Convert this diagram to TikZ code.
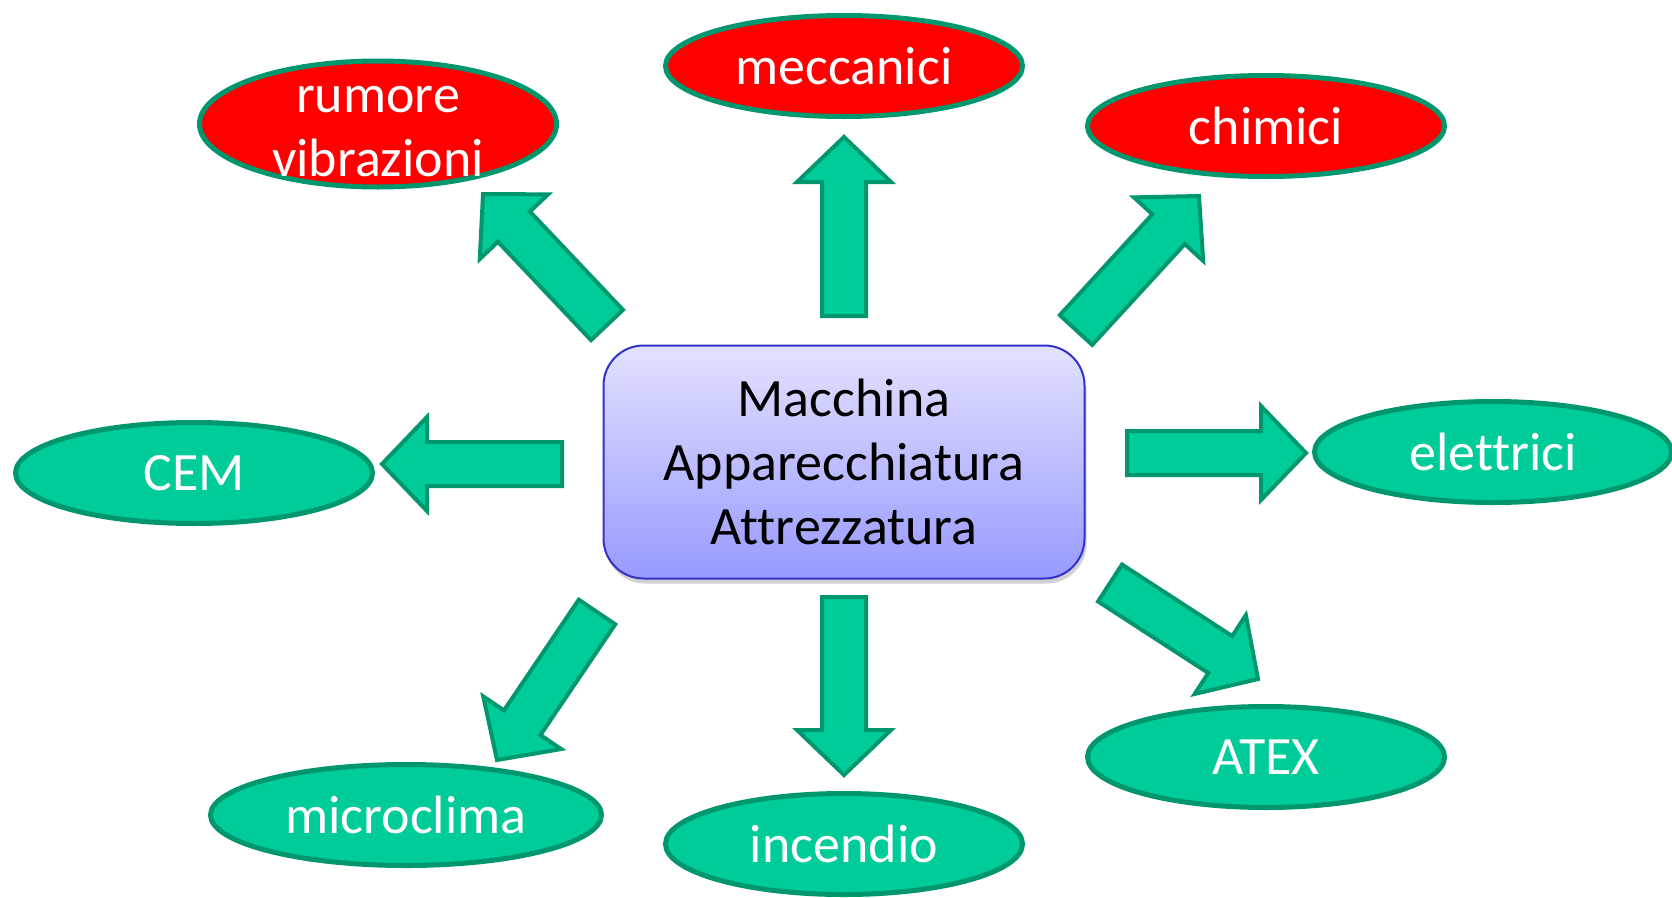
\documentclass[tikz,border=0pt]{standalone}
\usepackage{fontspec}
\setmainfont{Carlito}[Ligatures=NoCommon]
\usetikzlibrary{shapes.geometric,calc,shadows}
\definecolor{gfill}{HTML}{00CC99}
\definecolor{gborder}{HTML}{00966E}
\definecolor{bborder}{HTML}{3333CC}
\definecolor{btop}{HTML}{E2E2FF}
\definecolor{bbot}{HTML}{9999FF}
\newcommand\blockarrow[2]{%
  \coordinate (#1h) at ($(#2)!45pt!(#1)$);
  \draw[barrow] ($(#1)!22pt!90:(#2)$) -- ($(#1h)!22pt!90:(#2)$) -- ($(#1h)!47pt!90:(#2)$) -- (#2)
    -- ($(#1h)!47pt!-90:(#2)$) -- ($(#1h)!22pt!-90:(#2)$) -- ($(#1)!22pt!-90:(#2)$) -- cycle;}
\begin{document}
\begin{tikzpicture}[x=1pt,y=-1pt,
  ell/.style={ellipse, draw=gborder, line width=5pt, fill=gfill, minimum width=357pt, minimum height=101pt, inner sep=0pt},
  redell/.style={ell, fill=red},
  etext/.style={text=white, font=\fontsize{54}{64}\selectfont, align=center, inner sep=0pt},
  btext/.style={text=black, font=\fontsize{54}{64}\selectfont, align=center, inner sep=0pt},
  barrow/.style={draw=gborder, fill=gfill, line width=4pt, line join=miter},
  mainbox/.style={rectangle, rounded corners=40pt, draw=bborder, line width=2pt, top color=btop, bottom color=bbot, minimum width=481pt, minimum height=233pt, inner sep=0pt,
    drop shadow={shadow xshift=2pt, shadow yshift=-5pt, opacity=0.3, fill=black!60}}
]
\useasboundingbox (0,0) rectangle (1672,897);
\fill[white] (0,0) rectangle (1672,897);

% ellipses
\node[redell, minimum height=126pt] (rum) at (378,124) {};
\node[etext] (rumT) at (378,132) {rumore\\vibrazioni};
\node[redell] (mec) at (844,66) {};
\node[etext] (mecT) at (mec) {meccanici};
\node[redell] (chi) at (1266,126) {};
\node[etext] (chiT) at (chi) {chimici};
\node[ell] (cem) at (194,473) {};
\node[etext] (cemT) at (cem) {CEM};
\node[ell] (ele) at (1493,452) {};
\node[etext] (eleT) at (ele) {elettrici};
\node[ell, minimum width=391pt] (mic) at (406,815) {};
\node[etext] (micT) at (mic) {microclima};
\node[ell] (inc) at (844,844) {};
\node[etext] (incT) at (inc) {incendio};
\node[ell] (atx) at (1266,757) {};
\node[etext] (atxT) at (atx) {ATEX};

% centre box
\node[mainbox] (box) at (844,462) {};
\node[btext] (boxT) at (box) {Macchina\\Apparecchiatura\\Attrezzatura};

% arrows (tail, tip)
\coordinate (aU) at (844,316);  \coordinate (aUt) at (844,137);
\coordinate (aD) at (844,597);  \coordinate (aDt) at (844,775);
\coordinate (aL) at (562,464);  \coordinate (aLt) at (382,464);
\coordinate (aR) at (1127,453); \coordinate (aRt) at (1306,453);
\coordinate (aUL) at (607,325); \coordinate (aULt) at (483,194);
\coordinate (aUR) at (1076,330); \coordinate (aURt) at (1199,196);
\coordinate (aDL) at (597,612); \coordinate (aDLt) at (497,760);
\coordinate (aDR) at (1110,583); \coordinate (aDRt) at (1258,679);
\blockarrow{aU}{aUt}
\blockarrow{aD}{aDt}
\blockarrow{aL}{aLt}
\blockarrow{aR}{aRt}
\blockarrow{aUL}{aULt}
\blockarrow{aUR}{aURt}
\blockarrow{aDL}{aDLt}
\blockarrow{aDR}{aDRt}
\end{tikzpicture}
\end{document}
